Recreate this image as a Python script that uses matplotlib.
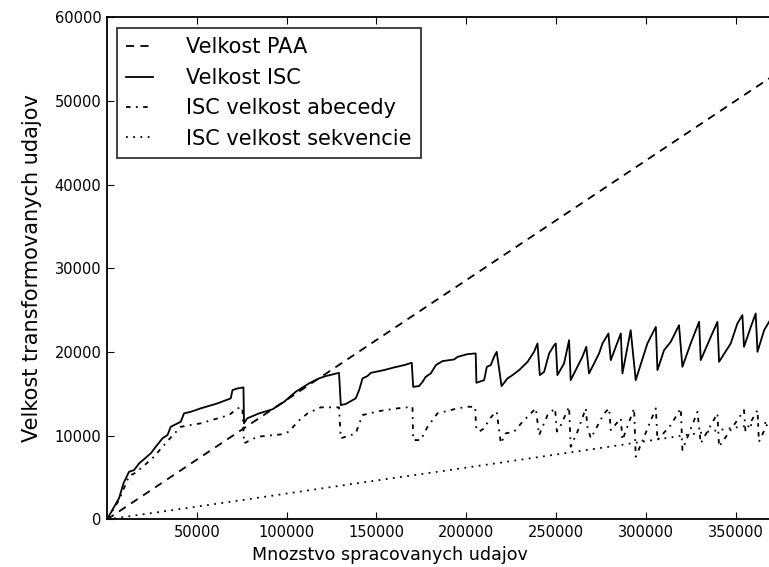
import matplotlib
matplotlib.use("Agg")
import matplotlib.pyplot as plt

# velkost PAA (linearna)
paa_x = [0, 372000]
paa_y = [0, 53140]

# velkost ISC
isc_x = [0, 6700, 9200, 12300, 15100, 17900, 24400, 27200, 30900, 33700, 35500, 41100, 42900,
         46700, 52200, 61500, 68900, 69900, 72700, 76000, 76300, 78000, 84700, 92100, 98600,
         105100, 112500, 118100, 121800, 129200, 130200, 133000, 138500, 140400, 142300, 145000,
         146900, 154300, 159900, 165400, 169700, 170500, 173800, 175700, 177500, 180300, 183100,
         186800, 193300, 195200, 200700, 205300, 205700, 210000, 211500, 213700, 215500, 217000,
         219700, 223000, 225800, 229500, 234200, 237800, 239700, 241000, 243400, 246200, 249000,
         249900, 250800, 254500, 257300, 258200, 261000, 264700, 266900, 268400, 271200, 274000,
         275900, 279200, 280500, 283300, 286100, 287000, 291600, 294400, 300900, 305600, 306500,
         310200, 313900, 318500, 320400, 325000, 329700, 330600, 336200, 339900, 340800, 347300,
         351000, 353800, 354700, 358500, 361200, 362200, 365900, 369200, 372000]
isc_y = [0, 2530, 4320, 5700, 5900, 6700, 7900, 8690, 9690, 10080, 11070, 11670, 12670,
         12860, 13270, 13860, 14460, 15450, 15650, 15770, 11480, 12070, 12670, 13150, 14050,
         15250, 16250, 16850, 17120, 17510, 13660, 13800, 14460, 15450, 16850, 17120,
         17510, 17840, 18160, 18430, 18710, 15840, 15930, 16440, 17040, 17440, 18430,
         18910, 19110, 19420, 19740, 19830, 16320, 16640, 18230, 18430, 19420, 20020,
         15930, 16840, 17240, 17840, 18830, 20020, 21020, 17240, 17630, 19830, 20820,
         21020, 17240, 18630, 21410, 16640, 17840, 19420, 20620, 17440, 18630, 19830,
         21020, 22210, 19030, 20620, 22210, 17440, 22600, 16640, 21020, 23000, 17840,
         20220, 21210, 23200, 18230, 21020, 23600, 19030, 21810, 23600, 18830, 21020,
         23400, 24400, 20620, 23000, 24600, 20020, 22610, 23800, 24500]

# ISC velkost abecedy
abc_x = [0, 6700, 12300, 16000, 25300, 34600, 41100, 52200, 61500, 68000, 72700, 75400, 76300,
         83800, 96800, 101400, 106100, 111700, 119000, 129200, 130200, 138500, 142300, 152500,
         161700, 170100, 170500, 174700, 178500, 184000, 195200, 200700, 205000, 205500, 207200,
         210000, 213000, 216500, 217000, 219300, 222000, 226700, 231400, 236000, 238800, 240600,
         245300, 249500, 250500, 252700, 257300, 258200, 262000, 266600, 267500, 269400, 276800,
         279600, 280500, 286100, 287000, 293500, 294400, 299100, 305600, 306500, 313900, 319500,
         320400, 328800, 330600, 339900, 340800, 351000, 354700, 355500, 362200, 363000, 368700,
         372000]
abc_y = [0, 2300, 5200, 5580, 7300, 9570, 11070, 11480, 12070, 12470, 13270, 13390, 9090,
         9880, 10160, 10480, 11670, 12670, 13390, 13390, 9690, 10280, 12470, 12980,
         13270, 13460, 9480, 9480, 11070, 12670, 13270, 13460, 13460, 11070, 10480,
         10880, 12000, 12860, 12860, 9090, 10280, 10480, 11670, 12670, 13270, 10080,
         12470, 13270, 10500, 11270, 13460, 8690, 10500, 13270, 11070, 9690, 12670,
         13270, 10680, 12070, 9480, 13270, 7490, 9880, 13270, 9480, 11270, 13270,
         8290, 12860, 9090, 12670, 8690, 11870, 13060, 10500, 13060, 9280, 11870,
         12600]

# ISC velkost sekvencie
seq_x = [0, 70000, 140000, 210000, 280000, 372000]
seq_y = [0, 2150, 4350, 6500, 8700, 11700]

fig = plt.figure(figsize=(7.69, 5.67), dpi=100)
ax = fig.add_axes([0.1391, 0.0838, 0.8875, 0.8862])

ax.plot(paa_x, paa_y, color='black', lw=1.3, linestyle=(0, (4.5, 3.5)), label='Velkost PAA')
ax.plot(isc_x, isc_y, color='black', lw=1.3, linestyle='-', label='Velkost ISC')
ax.plot(abc_x, abc_y, color='black', lw=1.3, linestyle=(0, (2.5, 3, 1, 3)), label='ISC velkost abecedy')
ax.plot(seq_x, seq_y, color='black', lw=1.3, linestyle=(0, (1, 3)), label='ISC velkost sekvencie')

ax.set_xlim(0, 380000)
ax.set_ylim(0, 60000)
ax.set_xticks([50000, 100000, 150000, 200000, 250000, 300000, 350000])
ax.set_yticks([0, 10000, 20000, 30000, 40000, 50000, 60000])
ax.tick_params(direction='in', top=True, right=True, length=5, labelsize=10.5, pad=4)
for s in ax.spines.values():
    s.set_linewidth(1.3)

ax.set_xlabel('Mnozstvo spracovanych udajov', fontsize=12.6)
ax.xaxis.set_label_coords(0.4147, -0.052)
ax.set_ylabel('Velkost transformovanych udajov', fontsize=15)
ax.yaxis.set_label_coords(-0.095, 0.5)

leg = ax.legend(loc='upper left', bbox_to_anchor=(0.0147, 0.978), borderaxespad=0, fontsize=15,
                fancybox=False, frameon=True, handlelength=1.3, borderpad=0.45,
                labelspacing=0.5, handletextpad=1.55)
leg.get_frame().set_edgecolor('black')
leg.get_frame().set_linewidth(1.3)

fig.savefig('out.png', dpi=100)
